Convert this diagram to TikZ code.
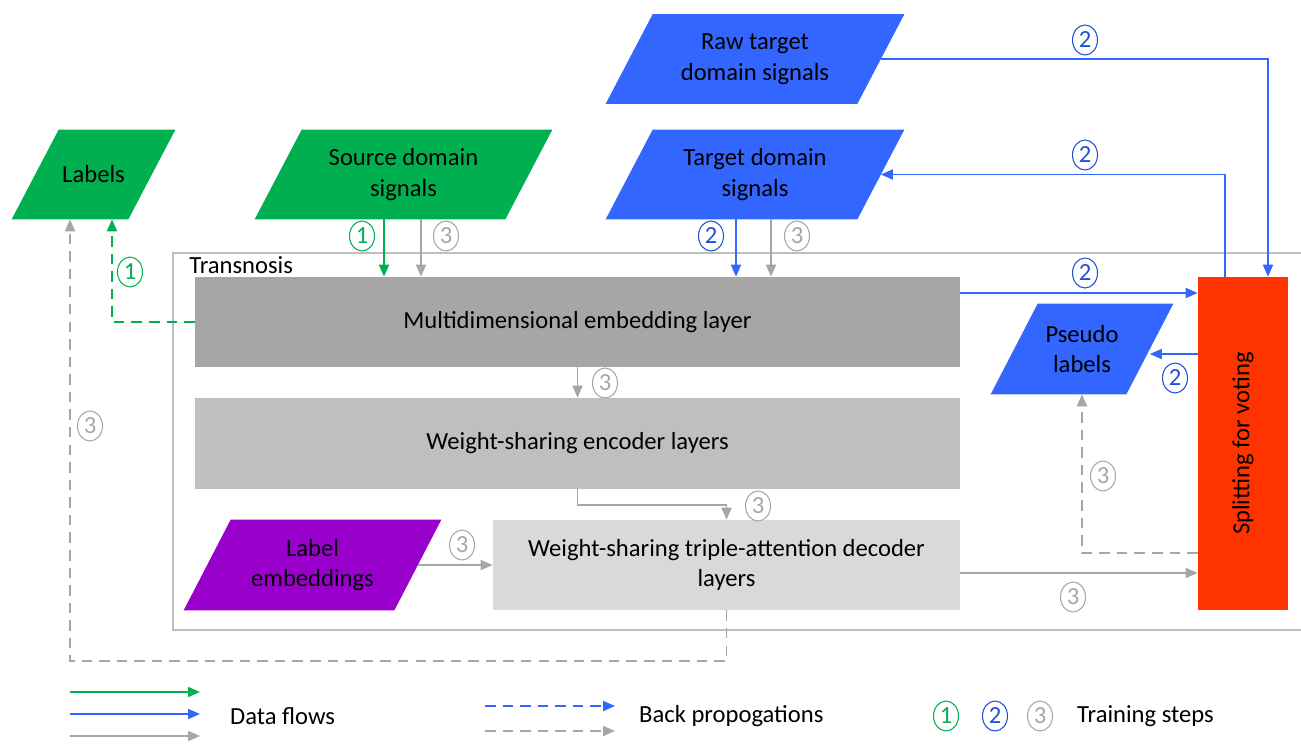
\documentclass[tikz,border=0pt]{standalone}
\usepackage{fontspec}
\setmainfont{Carlito}
\usetikzlibrary{arrows.meta, positioning, shapes.geometric, calc, backgrounds}
\definecolor{flowgreen}{RGB}{0,176,80}
\definecolor{flowblue}{RGB}{51,102,255}
\definecolor{stepblue}{RGB}{30,80,210}
\definecolor{flowgray}{RGB}{166,166,166}
\definecolor{layerdark}{RGB}{166,166,166}
\definecolor{layermid}{RGB}{191,191,191}
\definecolor{layerlight}{RGB}{217,217,217}
\definecolor{framegray}{RGB}{190,190,190}
\definecolor{labelpurple}{RGB}{153,0,204}
\definecolor{voteorange}{RGB}{255,51,0}
\newcommand{\diagfont}{\fontsize{14}{17.5}\selectfont}
\tikzset{
  dataio/.style={rectangle, minimum height=1.78cm, inner sep=1pt, align=center},
  layer/.style={rectangle, minimum width=15.3cm, minimum height=1.8cm, align=center},
  flow/.style={-{Triangle[length=0.24cm, width=0.2cm]}, line width=1pt},
  backprop/.style={flow, dash pattern=on 6pt off 4pt},
  stepno/.style={ellipse, draw, line width=0.6pt, minimum width=0.5cm,
                 minimum height=0.6cm, inner sep=0pt},
}

\begin{document}
\begin{tikzpicture}[font=\diagfont]
\useasboundingbox (0,0) rectangle (26.02,-14.86);

% --- frame ---
\draw[framegray, line width=0.8pt] (3.46,-5.06) rectangle (26.2,-12.6);
\node[anchor=west, inner sep=0pt] (frametitle) at (3.78,-5.30) {Transnosis};

% --- inputs (parallelogram bodies) ---
\node[dataio, minimum width=2.32cm] (labels) at (1.87,-3.49) {Labels};
\node[dataio, minimum width=5.0cm] (src) at (8.07,-3.49) {Source domain\\signals};
\node[dataio, minimum width=5.02cm] (raw) at (15.10,-1.18) {Raw target\\domain signals};
\node[dataio, minimum width=5.02cm] (tgt) at (15.10,-3.49) {Target domain\\signals};
\node[dataio, minimum width=2.7cm, minimum height=1.8cm] (pseudo) at (21.64,-6.98) {Pseudo\\labels};
\node[dataio, minimum width=4.2cm, minimum height=1.8cm] (lemb) at (6.25,-11.30) {Label\\embeddings};

\begin{scope}[on background layer]
\foreach \n/\c in {labels/flowgreen, src/flowgreen, raw/flowblue, tgt/flowblue,
                   pseudo/flowblue, lemb/labelpurple}
  \fill[\c] ([xshift=-0.47cm]\n.south west) -- ([xshift=-0.47cm]\n.south east)
    -- ([xshift=0.47cm]\n.north east) -- ([xshift=0.47cm]\n.north west) -- cycle;
\end{scope}

% --- layers ---
\node[layer, fill=layerdark] (embed) at (11.55,-6.44) {Multidimensional embedding layer};
\node[layer, fill=layermid, minimum height=1.82cm] (enc) at (11.55,-8.87) {Weight-sharing encoder layers};
\node[layer, fill=layerlight, minimum width=9.34cm] (dec) at (14.53,-11.30) {Weight-sharing triple-attention decoder\\layers};
\node[rectangle, fill=voteorange, minimum width=1.8cm, minimum height=6.66cm,
      label={[rotate=90]center:Splitting for voting}] (split) at (24.86,-8.87) {};

% --- data flows ---
\draw[flow, flowgreen] ([xshift=-0.39cm]src.south) -- ([xshift=-0.39cm]src.south |- embed.north);
\draw[flow, flowgray]  ([xshift=0.35cm]src.south) -- ([xshift=0.35cm]src.south |- embed.north);
\draw[flow, flowblue]  ([xshift=-0.38cm]tgt.south) -- ([xshift=-0.38cm]tgt.south |- embed.north);
\draw[flow, flowgray]  ([xshift=0.32cm]tgt.south) -- ([xshift=0.32cm]tgt.south |- embed.north);
\draw[flow, flowblue]  (raw.east) -| ([xshift=0.5cm]split.north);
\draw[flow, flowblue]  ([xshift=-0.36cm]split.north) |- (tgt.east);
\draw[flow, flowblue]  ([yshift=0.58cm]embed.east) -- ([yshift=0.58cm]embed.east -| split.west);
\draw[flow, flowblue]  ([yshift=-0.1cm]pseudo.east -| split.west) -- ([yshift=-0.1cm]pseudo.east);
\draw[flow, flowgray]  (embed.south) -- (enc.north);
\draw[flow, flowgray]  (enc.south) -- ++(0,-0.32) -| (dec.north);
\draw[flow, flowgray]  (lemb.east) -- (dec.west);
\draw[flow, flowgray]  ([yshift=-0.16cm]dec.east) -- ([yshift=-0.16cm]dec.east -| split.west);

% --- back propagations ---
\draw[backprop, flowgreen] (embed.west) -| ([xshift=0.37cm]labels.south);
\draw[backprop, flowgray]  ([yshift=-2.19cm]split.west) -| (pseudo.south);
\draw[backprop, flowgray]  (dec.south) -- ++(0,-1.02) -| ([xshift=-0.47cm]labels.south);

% --- training steps ---
\node[stepno, flowgreen] (st1a) at (7.24,-4.72) {1};
\node[stepno, flowgray]  (st3a) at (8.92,-4.72) {3};
\node[stepno, stepblue]  (st2a) at (14.22,-4.72) {2};
\node[stepno, flowgray]  (st3b) at (15.94,-4.72) {3};
\node[stepno, stepblue]  (st2b) at (21.70,-0.80) {2};
\node[stepno, stepblue]  (st2c) at (21.70,-3.10) {2};
\node[stepno, stepblue]  (st2d) at (21.70,-5.46) {2};
\node[stepno, stepblue]  (st2e) at (23.50,-7.56) {2};
\node[stepno, flowgreen] (st1b) at (2.60,-5.44) {1};
\node[stepno, flowgray]  (st3c) at (12.10,-7.66) {3};
\node[stepno, flowgray]  (st3d) at (15.16,-10.12) {3};
\node[stepno, flowgray]  (st3e) at (9.24,-10.90) {3};
\node[stepno, flowgray]  (st3f) at (21.46,-11.94) {3};
\node[stepno, flowgray]  (st3g) at (22.06,-9.52) {3};
\node[stepno, flowgray]  (st3h) at (1.80,-8.52) {3};

% --- legend ---
\foreach \c/\y [count=\i] in {flowgreen/13.84, flowblue/14.28, flowgray/14.72} {
  \coordinate (dfa\i) at (1.40,-\y);
  \coordinate (dfb\i) at (4.00,-\y);
  \draw[flow, \c] (dfa\i) -- (dfb\i);
}
\node[anchor=west] (dflabel) at (4.48,-14.32) {Data flows};
\foreach \c/\y [count=\i] in {flowblue/14.12, flowgray/14.62} {
  \coordinate (bpa\i) at (9.70,-\y);
  \coordinate (bpb\i) at (12.30,-\y);
  \draw[backprop, \c] (bpa\i) -- (bpb\i);
}
\node[anchor=west] (bplabel) at (12.66,-14.32) {Back propogations};
\node[stepno, flowgreen] (lg1) at (18.92,-14.32) {1};
\node[stepno, stepblue]  (lg2) at (19.90,-14.32) {2};
\node[stepno, flowgray]  (lg3) at (20.80,-14.32) {3};
\node[anchor=west] (tslabel) at (21.42,-14.32) {Training steps};

\end{tikzpicture}
\end{document}
